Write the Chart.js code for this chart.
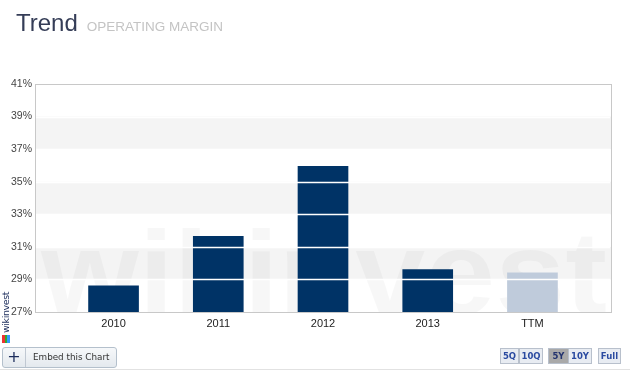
<!DOCTYPE html>
<html><head><meta charset="utf-8">
<script src="https://cdn.jsdelivr.net/npm/chart.js@4/dist/chart.umd.min.js"></script>
<style>
html,body{margin:0;padding:0;background:#fff;width:630px;height:372px;overflow:hidden;font-family:"Liberation Sans",Arial,sans-serif;}
#wrap{position:relative;width:630px;height:372px;}
#c{position:absolute;left:0;top:0;}
#title{position:absolute;left:16px;top:9px;white-space:nowrap;}
#title .t1{font-size:24px;color:#353d57;}
#title .t2{font-size:13.5px;color:#c4c4c4;margin-left:9px;}
#logo{position:absolute;left:0px;top:333px;transform-origin:left top;transform:rotate(-90deg);font-family:"DejaVu Sans",sans-serif;font-size:9.5px;line-height:11px;color:#1c2d5c;letter-spacing:-0.4px;white-space:nowrap;}
#icon{position:absolute;left:2px;top:335px;width:8px;height:8px;background:linear-gradient(90deg,#e33 0 33%,#3a3 33% 66%,#39f 66%);}
#embed{position:absolute;left:2px;top:347px;width:113px;height:19px;border:1px solid #b4c0cc;border-radius:3px;background:linear-gradient(#f6f8fa,#e4e9ee);font-family:"DejaVu Sans",sans-serif;font-size:8.8px;color:#333;white-space:nowrap;}
#embed .plus{position:absolute;left:0;top:0;width:22px;height:19px;border-right:1px solid #c0c8d2;text-align:center;line-height:18px;font-size:16px;color:#1c2d5c;}
#embed .lab{position:absolute;left:30px;top:4px;}
.btn{position:absolute;top:348px;height:14px;border:1px solid #b8c0cc;background:#e8ecf2;font-family:"DejaVu Sans",sans-serif;font-weight:bold;font-size:8.5px;color:#2a4aa0;text-align:center;line-height:14px;}
.btn.on{background:#a9a9a9;color:#23336e;}
#rule{position:absolute;left:0;top:369px;width:630px;height:1px;background:#e2e2e2;}
</style></head>
<body><div id="wrap">
<canvas id="c" width="630" height="372"></canvas>
<div id="title"><span class="t1">Trend</span><span class="t2">OPERATING MARGIN</span></div>
<div id="logo">wikinvest</div>
<div id="icon"></div>
<div id="embed"><div class="plus">+</div><div class="lab">Embed this Chart</div></div>
<div class="btn" style="left:500px;width:17px;">5Q</div>
<div class="btn" style="left:519px;width:22px;">10Q</div>
<div class="btn on" style="left:548px;width:19px;">5Y</div>
<div class="btn" style="left:568px;width:22px;">10Y</div>
<div class="btn" style="left:598px;width:21px;">Full</div>
<div id="rule"></div>
</div>
<script>
const categories = ["2010", "2011", "2012", "2013", "TTM"];
const marginValues = [28.6, 31.65, 35.95, 29.6, 29.4];
const barColors = ["#003366", "#003366", "#003366", "#003366", "#bfcbdb"];
const yTicks = [27, 29, 31, 33, 35, 37, 39, 41];
const shadedBands = [[37, 39], [33, 35], [29, 31]];

const decor = {
  id: 'decor',
  beforeDatasetsDraw(chart) {
    const {ctx, chartArea: a, scales: {y}} = chart;
    ctx.save();
    ctx.fillStyle = '#f4f4f4';
    shadedBands.forEach(([lo, hi]) => {
      const t = y.getPixelForValue(hi), b = y.getPixelForValue(lo);
      ctx.fillRect(a.left, t, a.right - a.left, b - t);
    });
    ctx.beginPath(); ctx.rect(a.left, a.top, a.right - a.left, a.bottom - a.top); ctx.clip();
    ctx.fillStyle = 'rgba(0,0,0,0.03)';
    ctx.font = 'bold 118px "Liberation Sans", Arial, sans-serif';
    ctx.textBaseline = 'alphabetic';
    const txt = 'wikinvest';
    const w = ctx.measureText(txt).width;
    const target = a.right - a.left - 10;
    ctx.translate(a.left + 6, a.bottom + 2);
    ctx.scale(target / w, 1);
    ctx.fillText(txt, 0, 0);
    ctx.restore();
  },
  afterDatasetsDraw(chart) {
    const {ctx, chartArea: a, scales: {y}} = chart;
    ctx.save();
    ctx.strokeStyle = '#ffffff';
    ctx.lineWidth = 1.5;
    yTicks.slice(1, -1).forEach(v => {
      const py = Math.round(y.getPixelForValue(v)) + 0.5;
      ctx.beginPath(); ctx.moveTo(a.left + 1, py); ctx.lineTo(a.right - 1, py); ctx.stroke();
    });
    ctx.strokeStyle = '#c8c8c8';
    ctx.lineWidth = 1;
    ctx.strokeRect(Math.round(a.left) + 0.5, Math.round(a.top) + 0.5, Math.round(a.right - a.left), Math.round(a.bottom - a.top));
    ctx.restore();
  }
};

new Chart(document.getElementById('c'), {
  type: 'bar',
  data: {
    datasets: [{
      data: marginValues.map((v, i) => ({x: i, y: v})),
      backgroundColor: barColors,
      borderWidth: 0,
      barThickness: 50
    }]
  },
  options: {
    responsive: false,
    animation: false,
    devicePixelRatio: 1,
    layout: {padding: {left: 0, right: 19, top: 84, bottom: 0}},
    plugins: {legend: {display: false}, tooltip: {enabled: false}},
    scales: {
      x: {
        type: 'linear',
        offset: false,
        min: -0.75, max: 4.75,
        grid: {display: false, drawTicks: false, offset: false},
        border: {display: false},
        afterBuildTicks: s => { s.ticks = categories.map((c, i) => ({value: i})); },
        afterFit: s => { s.height = 60; },
        ticks: {
          padding: 5,
          autoSkip: false,
          maxRotation: 0,
          color: '#222',
          font: {family: '"Liberation Sans", Arial, sans-serif', size: 11},
          callback: v => categories[v]
        }
      },
      y: {
        min: 27, max: 41,
        grid: {display: false, drawTicks: false},
        border: {display: false},
        afterBuildTicks: s => { s.ticks = yTicks.map(v => ({value: v})); },
        afterFit: s => { s.width = 35; },
        ticks: {
          padding: 3,
          color: '#444',
          font: {family: '"Liberation Sans", Arial, sans-serif', size: 10.5},
          callback: v => v + '%'
        }
      }
    }
  },
  plugins: [decor]
});
</script>
</body></html>
